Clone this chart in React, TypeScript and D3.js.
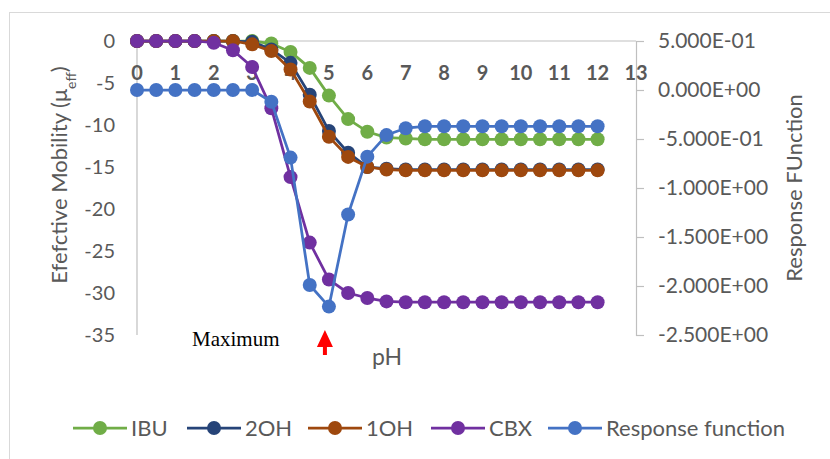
import React, { useEffect, useRef } from "react";
import * as d3 from "d3";

// pH values, every 0.5 from 0 to 12
const phValues = [0, 0.5, 1, 1.5, 2, 2.5, 3, 3.5, 4, 4.5, 5, 5.5, 6, 6.5, 7, 7.5, 8, 8.5, 9, 9.5, 10, 10.5, 11, 11.5, 12];

// effective mobility series (left axis)
const ibu = [0, 0, 0, 0, 0, 0, 0, -0.3, -1.3, -3.2, -6.5, -9.3, -10.8, -11.5, -11.6, -11.7, -11.7, -11.7, -11.7, -11.7, -11.7, -11.7, -11.7, -11.7, -11.7];
const oh2 = [0, 0, 0, 0, 0, 0, -0.1, -1.0, -2.6, -6.4, -10.7, -13.3, -15.0, -15.2, -15.3, -15.3, -15.3, -15.3, -15.3, -15.3, -15.3, -15.3, -15.3, -15.3, -15.3];
const oh1 = [0, 0, 0, 0, 0, 0, -0.4, -1.2, -3.4, -7.2, -11.4, -13.8, -15.0, -15.3, -15.4, -15.4, -15.4, -15.4, -15.4, -15.4, -15.4, -15.4, -15.4, -15.4, -15.4];
const cbx = [0, 0, 0, 0, -0.2, -1.1, -3.1, -8.0, -16.2, -24.0, -28.4, -30.0, -30.6, -31.0, -31.1, -31.1, -31.1, -31.1, -31.1, -31.1, -31.1, -31.1, -31.1, -31.1, -31.1];

// response function (right axis)
const response = [0, 0, 0, 0, 0, 0, 0, -0.12, -0.69, -1.99, -2.21, -1.27, -0.68, -0.46, -0.39, -0.37, -0.37, -0.37, -0.37, -0.37, -0.37, -0.37, -0.37, -0.37, -0.37];

const xTicks = [0, 1, 2, 3, 4, 5, 6, 7, 8, 9, 10, 11, 12, 13];
const leftTicks = [0, -5, -10, -15, -20, -25, -30, -35];
const rightTicks = [0.5, 0, -0.5, -1, -1.5, -2, -2.5];

const seriesNames = ["IBU", "2OH", "1OH", "CBX", "Response function"];
const seriesColors = ["#70AD47", "#264478", "#9E480E", "#7030A0", "#4472C4"];

const FONT = "Lato, 'Liberation Sans', sans-serif";

function sciFormat(v: number) {
  const [m, e] = v.toExponential(3).split("e");
  const n = Math.abs(+e);
  return m + "E" + (+e < 0 ? "-" : "+") + (n < 10 ? "0" + n : "" + n);
}

export default function App() {
  const ref = useRef<SVGSVGElement>(null);

  useEffect(() => {
    const svg = d3.select(ref.current);
    svg.selectAll("*").remove();

    const x = d3.scaleLinear().domain([0, 13]).range([137, 636]);
    const yL = d3.scaleLinear().domain([-35, 0]).range([335, 41]);
    const yR = d3.scaleLinear().domain([-2.5, 0.5]).range([335, 41]);

    // chart border
    svg.append("rect").attr("x", 9.5).attr("y", 12.5).attr("width", 840).attr("height", 460)
      .attr("fill", "white").attr("stroke", "#D9D9D9");

    // axes lines
    const axisColor = "#BFBFBF";
    svg.append("line").attr("x1", x(0)).attr("x2", x(13)).attr("y1", yL(0)).attr("y2", yL(0))
      .attr("stroke", axisColor).attr("stroke-width", 1.2);
    svg.append("line").attr("x1", x(0)).attr("x2", x(0)).attr("y1", yL(0)).attr("y2", yL(-35))
      .attr("stroke", axisColor).attr("stroke-width", 1.2);

    // right axis
    const rAxis = svg.append("g").attr("transform", `translate(${x(13)},0)`)
      .call(d3.axisRight(yR).tickValues(rightTicks).tickFormat(d => sciFormat(+d)).tickSize(8).tickPadding(14));
    rAxis.select(".domain").attr("stroke", axisColor).attr("stroke-width", 1.2);
    rAxis.selectAll(".tick line").attr("stroke", axisColor).attr("stroke-width", 1.2);
    rAxis.selectAll("text").attr("fill", "#595959").style("font-size", "21px").style("font-family", FONT);

    // left tick labels
    svg.append("g").selectAll("text").data(leftTicks).join("text")
      .attr("x", 115).attr("y", d => yL(d)).attr("dy", "0.35em")
      .attr("text-anchor", "end").attr("fill", "#595959")
      .style("font-size", "20px").style("font-family", FONT)
      .text(d => d);

    // x tick labels (bold)
    svg.append("g").selectAll("text").data(xTicks).join("text")
      .attr("x", d => x(d)).attr("y", 80)
      .attr("text-anchor", "middle").attr("fill", "#595959")
      .style("font-size", "20px").style("font-weight", "bold").style("font-family", FONT)
      .text(d => d);

    // series
    const allSeries = [ibu, oh2, oh1, cbx, response];
    allSeries.forEach((vals, i) => {
      const yScale = i === 4 ? yR : yL;
      const pts = phValues.map((p, j) => [x(p), yScale(vals[j])] as [number, number]);
      svg.append("path").attr("d", d3.line()(pts)).attr("fill", "none")
        .attr("stroke", seriesColors[i]).attr("stroke-width", 2.75).attr("stroke-linejoin", "round");
      svg.append("g").selectAll("circle").data(pts).join("circle")
        .attr("cx", d => d[0]).attr("cy", d => d[1]).attr("r", 7)
        .attr("fill", seriesColors[i]);
    });

    // axis titles
    svg.append("text").attr("transform", "translate(67,175) rotate(-90)")
      .attr("text-anchor", "middle").attr("fill", "#595959")
      .style("font-size", "22px").style("font-family", FONT)
      .call(t => {
        t.append("tspan").text("Efefctive Mobility (μ");
        t.append("tspan").attr("baseline-shift", "sub").style("font-size", "14px").text("eff");
        t.append("tspan").text(")");
      });
    svg.append("text").attr("transform", "translate(802,188) rotate(-90)")
      .attr("text-anchor", "middle").attr("fill", "#595959")
      .style("font-size", "22px").style("font-family", FONT)
      .text("Response FUnction");
    svg.append("text").attr("x", 387).attr("y", 365)
      .attr("text-anchor", "middle").attr("fill", "#595959")
      .style("font-size", "23px").style("font-family", FONT)
      .text("pH");

    // annotation
    svg.append("text").attr("x", 192).attr("y", 346)
      .attr("fill", "black").style("font-size", "21px").style("font-family", "'Liberation Serif', serif")
      .text("Maximum");
    const ax = x(5) - 4;
    svg.append("path")
      .attr("d", `M${ax},330 L${ax + 8},347 L${ax + 2},347 L${ax + 2},355 L${ax - 2},355 L${ax - 2},347 L${ax - 8},347 Z`)
      .attr("fill", "#FF0000");

    // legend
    const legendX = [73, 187, 308, 431, 548];
    const ly = 428;
    seriesNames.forEach((name, i) => {
      const g = svg.append("g").attr("transform", `translate(${legendX[i]},${ly})`);
      g.append("line").attr("x1", 0).attr("x2", 54).attr("y1", 0).attr("y2", 0)
        .attr("stroke", seriesColors[i]).attr("stroke-width", 2.75);
      g.append("circle").attr("cx", 27).attr("cy", 0).attr("r", 7).attr("fill", seriesColors[i]);
      g.append("text").attr("x", 58).attr("y", 0).attr("dy", "0.35em").attr("fill", "#595959")
        .style("font-size", "22px").style("font-family", FONT).text(name);
    });
  }, []);

  return (
    <svg ref={ref} width={830} height={459}
      style={{ position: "absolute", left: 0, top: 0, background: "white" }} />
  );
}
